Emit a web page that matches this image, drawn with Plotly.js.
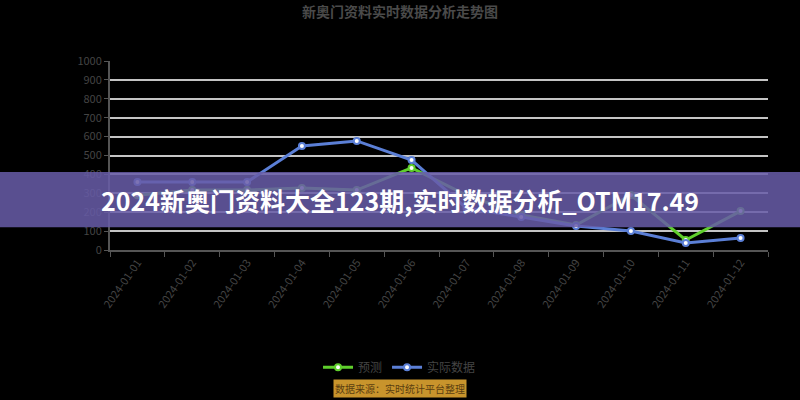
<!DOCTYPE html>
<html>
<head>
<meta charset="utf-8">
<script src="https://cdn.plot.ly/plotly-3.0.1.min.js"></script>
<style>
  html, body { margin: 0; padding: 0; background: #000; }
  #trend_chart { width: 800px; height: 400px; }
</style>
</head>
<body>
<div id="trend_chart"></div>
<script>
/* two-line trend chart, with the banner overlay from the source image */

var periods = ['2024-01-01', '2024-01-02', '2024-01-03', '2024-01-04', '2024-01-05', '2024-01-06',
               '2024-01-07', '2024-01-08', '2024-01-09', '2024-01-10', '2024-01-11', '2024-01-12'];
var predict_values = [290, 317, 317, 328, 317, 434, 290, 185, 132, 291, 53, 206];
var actual_values = [360, 360, 360, 550, 577, 476, 222, 175, 127, 100, 37, 63];
var y_ticks = [0, 100, 200, 300, 400, 500, 600, 700, 800, 900, 1000];

var predict_line = {
    x: periods,
    y: predict_values,
    type: 'scatter',
    mode: 'lines+markers',
    name: '预测',
    line: { color: '#5fcf2c', width: 3 },
    marker: { size: 6, color: '#ffffff', line: { color: '#5fcf2c', width: 2 } }
};

var actual_line = {
    x: periods,
    y: actual_values,
    type: 'scatter',
    mode: 'lines+markers',
    name: '实际数据',
    line: { color: '#5b7fd6', width: 3 },
    marker: { size: 6, color: '#ffffff', line: { color: '#5b7fd6', width: 2 } }
};

var layout = {
    width: 800,
    height: 400,
    paper_bgcolor: '#000000',
    plot_bgcolor: '#000000',
    font: { family: '"Noto Sans CJK SC", "Noto Sans", sans-serif', color: '#444444', size: 11 },
    margin: { l: 110, r: 32, t: 61, b: 150 },
    title: {
        text: '<b>新奥门资料实时数据分析走势图</b>',
        font: { size: 14, color: '#4a4a4a' },
        x: 0.5, xanchor: 'center',
        y: 0.97, yanchor: 'middle'
    },
    showlegend: true,
    legend: {
        orientation: 'h',
        x: 0.44, xanchor: 'center',
        y: -0.62, yanchor: 'middle',
        itemwidth: 30,
        font: { size: 12, color: '#444444' },
        bgcolor: 'rgba(0,0,0,0)'
    },
    xaxis: {
        type: 'category',
        range: [-0.5, 11.5],
        tickson: 'boundaries',
        ticks: 'outside',
        ticklen: 5,
        tickcolor: '#555555',
        tickangle: -55,
        showgrid: false,
        showline: true,
        linecolor: '#555555',
        linewidth: 2,
        tickfont: { size: 11, color: '#444444' }
    },
    yaxis: {
        range: [0, 1000],
        tickvals: y_ticks,
        ticks: 'outside',
        ticklen: 4,
        tickcolor: '#555555',
        showline: true,
        linecolor: '#555555',
        linewidth: 2,
        gridcolor: '#c4c4c4',
        gridwidth: 2,
        zeroline: false,
        tickfont: { size: 11, color: '#444444' }
    },
    shapes: [{
        type: 'rect',
        xref: 'paper', yref: 'paper',
        x0: -0.1672, x1: 1.0487,
        y0: 0.121, y1: 0.413,
        fillcolor: 'rgba(104, 92, 168, 0.86)',
        line: { width: 0 },
        layer: 'above'
    }],
    annotations: [{
        text: '<b>2024新奥门资料大全123期,实时数据分析_OTM17.49</b>',
        xref: 'paper', yref: 'paper',
        x: 0.44, y: 0.267,
        xanchor: 'center', yanchor: 'middle',
        showarrow: false,
        font: { size: 25, color: '#ffffff', family: '"Noto Sans CJK SC", sans-serif' }
    }, {
        text: '数据来源：实时统计平台整理',
        xref: 'paper', yref: 'paper',
        x: 0.44, y: -0.735,
        xanchor: 'center', yanchor: 'middle',
        showarrow: false,
        bgcolor: '#c8942c',
        borderpad: 1,
        font: { size: 10, color: '#5a3e10' }
    }]
};

Plotly.newPlot('trend_chart', [predict_line, actual_line], layout, { displayModeBar: false });
</script>
</body>
</html>
